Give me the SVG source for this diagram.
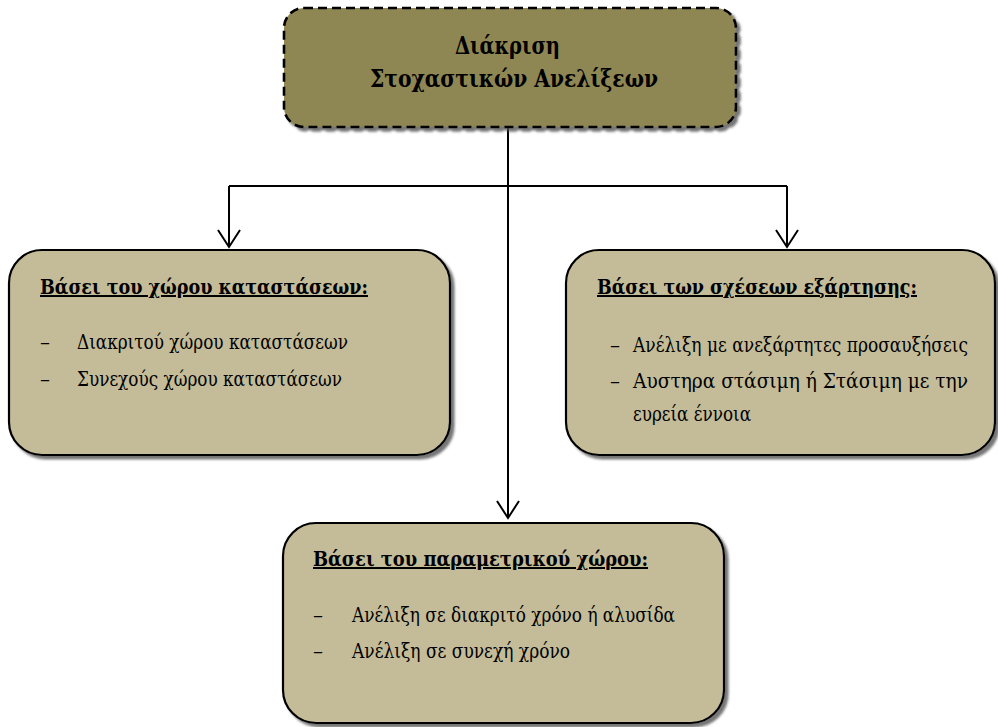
<svg xmlns="http://www.w3.org/2000/svg" width="998" height="727" viewBox="0 0 998 727">
  <style>
    .box { fill: #c4bc98; stroke: #000; stroke-width: 2.2; filter: url(#shadow); }
    .root { fill: #8f8752; stroke: #000; stroke-width: 2.6; stroke-dasharray: 9 5; filter: url(#shadow); }
    text { font-family: "DejaVu Serif", "Liberation Serif", serif; fill: #000; }
    .title { font-weight: bold; font-size: 25px; text-anchor: middle; }
    .head { font-weight: bold; font-size: 20px; text-decoration: underline; }
    .item { font-size: 20px; }
    .wire { fill: none; stroke: #000; stroke-width: 2; }
  </style>
  <defs>
    <filter id="shadow" x="-10%" y="-10%" width="125%" height="125%">
      <feDropShadow dx="3.5" dy="3.5" stdDeviation="0.8" flood-color="#555" flood-opacity="0.8"/>
    </filter>
    <marker id="vee" viewBox="0 0 24 20" refX="12" refY="18" markerWidth="24" markerHeight="20" markerUnits="userSpaceOnUse" orient="0">
      <path d="M1,1 L12,18 L23,1" fill="none" stroke="#000" stroke-width="2"/>
    </marker>
  </defs>

  <rect width="998" height="727" fill="#fff"/>

  <!-- connectors -->
  <g id="connectors">
    <path class="wire" d="M508,127 V518" marker-end="url(#vee)"/>
    <path class="wire" d="M229,186 H787"/>
    <path class="wire" d="M229,186 V247" marker-end="url(#vee)"/>
    <path class="wire" d="M787,186 V247" marker-end="url(#vee)"/>
  </g>

  <!-- root node -->
  <g id="root">
    <rect class="root" x="284" y="8" width="452" height="119" rx="20"/>
    <text class="title" x="507.5" y="54" textLength="105" lengthAdjust="spacingAndGlyphs">Διάκριση</text>
    <text class="title" x="514" y="87" textLength="288" lengthAdjust="spacingAndGlyphs">Στοχαστικών Ανελίξεων</text>
  </g>

  <!-- state space -->
  <g id="state-space">
    <rect class="box" x="9" y="250" width="441" height="205" rx="33"/>
    <text class="head" x="40" y="294" textLength="328" lengthAdjust="spacingAndGlyphs">Βάσει του χώρου καταστάσεων:</text>
    <text class="item" x="40" y="349">–</text>
    <text class="item" x="77" y="349" textLength="271" lengthAdjust="spacingAndGlyphs">Διακριτού χώρου καταστάσεων</text>
    <text class="item" x="40" y="386">–</text>
    <text class="item" x="77" y="386" textLength="265" lengthAdjust="spacingAndGlyphs">Συνεχούς χώρου καταστάσεων</text>
  </g>

  <!-- dependence relations -->
  <g id="dependence">
    <rect class="box" x="566" y="250" width="429" height="205" rx="33"/>
    <text class="head" x="597" y="294" textLength="320" lengthAdjust="spacingAndGlyphs">Βάσει των σχέσεων εξάρτησης:</text>
    <text class="item" x="610" y="352">–</text>
    <text class="item" x="633" y="352" font-size="16.5" textLength="335" lengthAdjust="spacingAndGlyphs">Ανέλιξη με ανεξάρτητες προσαυξήσεις</text>
    <text class="item" x="610" y="388">–</text>
    <text class="item" x="633" y="388" font-size="18" textLength="335" lengthAdjust="spacingAndGlyphs">Αυστηρα στάσιμη ή Στάσιμη με την</text>
    <text class="item" x="633" y="421" textLength="118" lengthAdjust="spacingAndGlyphs">ευρεία έννοια</text>
  </g>

  <!-- parameter space -->
  <g id="parameter-space">
    <rect class="box" x="283" y="523" width="441" height="200" rx="33"/>
    <text class="head" x="313" y="566" textLength="335" lengthAdjust="spacingAndGlyphs">Βάσει του παραμετρικού χώρου:</text>
    <text class="item" x="313" y="622">–</text>
    <text class="item" x="352" y="622" textLength="323" lengthAdjust="spacingAndGlyphs">Ανέλιξη σε διακριτό χρόνο ή αλυσίδα</text>
    <text class="item" x="313" y="658">–</text>
    <text class="item" x="352" y="658" textLength="218" lengthAdjust="spacingAndGlyphs">Ανέλιξη σε συνεχή χρόνο</text>
  </g>
</svg>
